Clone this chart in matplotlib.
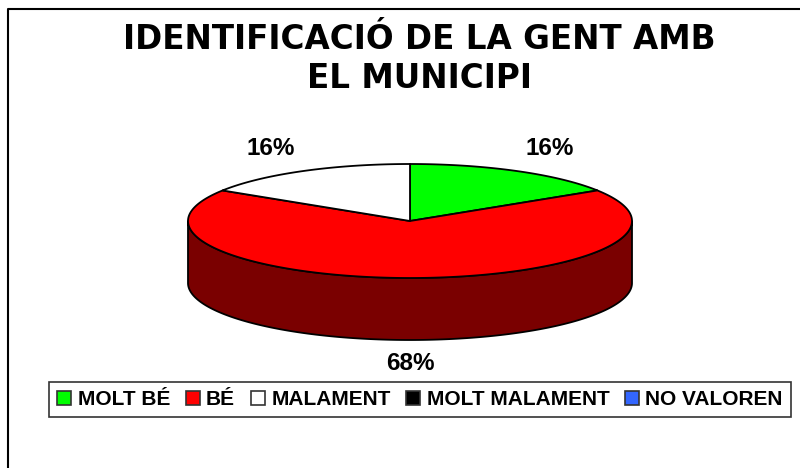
import numpy as np
import matplotlib.pyplot as plt
from matplotlib.patches import Polygon, Patch
from matplotlib.lines import Line2D

# data
labels = ['MOLT BÉ', 'BÉ', 'MALAMENT', 'MOLT MALAMENT', 'NO VALOREN']
values = [16, 68, 16, 0, 0]
colors = ['#00ff00', '#ff0000', '#ffffff', '#000000', '#3366ff']
side_colors = ['#007f00', '#7a0000', '#808080', '#000000', '#1a338f']
title_lines = ['IDENTIFICACIÓ DE LA GENT AMB', 'EL MUNICIPI']

W, H = 800, 468
fig = plt.figure(figsize=(W / 100, H / 100), dpi=100)
ax = fig.add_axes([0, 0, 1, 1])
ax.set_xlim(0, W)
ax.set_ylim(H, 0)
ax.axis('off')

# pie geometry (pixels)
cx, cy, a, b, depth = 410, 221, 222, 57, 62


def ell(t, dy=0.0):
    t = np.radians(t)
    return np.column_stack([cx + a * np.cos(t), cy - b * np.sin(t) + dy])


total = float(sum(values))
start = 90.0
wedges = []
for v, c, sc in zip(values, colors, side_colors):
    if v == 0:
        continue
    sweep = 360.0 * v / total
    wedges.append((start - sweep, start, c, sc, v))
    start -= sweep

# side walls (front half only)
for t1, t2, c, sc, v in wedges:
    ts = np.linspace(t1, t2, 400)
    front = np.sin(np.radians(ts)) < 0
    idx = np.where(front)[0]
    if len(idx) == 0:
        continue
    runs = np.split(idx, np.where(np.diff(idx) > 1)[0] + 1)
    for r in runs:
        seg = ts[r]
        pts = np.vstack([ell(seg), ell(seg[::-1], depth)])
        ax.add_patch(Polygon(pts, closed=True, facecolor=sc, edgecolor='black',
                             lw=1.3, zorder=1, joinstyle='round'))

# top faces
for t1, t2, c, sc, v in wedges:
    ts = np.linspace(t2, t1, 300)
    pts = np.vstack([[cx, cy], ell(ts)])
    ax.add_patch(Polygon(pts, closed=True, facecolor=c, edgecolor='black',
                         lw=1.3, zorder=2, joinstyle='round'))

# percent labels
for t1, t2, c, sc, v in wedges:
    m = np.radians((t1 + t2) / 2)
    x = cx + 289 * np.cos(m)
    y = cy - 83 * np.sin(m) + (depth - 2 if np.sin(m) < -0.01 else 0)
    ax.text(x, y, f'{round(100 * v / total)}%', ha='center', va='center',
            fontsize=17.5, fontweight='bold', family='Liberation Sans', zorder=3)

# title
fig.text(419 / W, 1 - 49 / H, title_lines[0], ha='center', va='baseline',
         fontsize=23.5, fontweight='bold', family='DejaVu Sans')
fig.text(419 / W, 1 - 88 / H, title_lines[1], ha='center', va='baseline',
         fontsize=23.5, fontweight='bold', family='DejaVu Sans')

# legend
handles = [Patch(facecolor=c, edgecolor='#333333', lw=1.2) for c in colors]
leg = fig.legend(handles, labels, loc='center', ncol=5,
                 bbox_to_anchor=(420 / W, 1 - 399.5 / H),
                 prop=dict(family='Liberation Sans', weight='bold', size=15),
                 handlelength=0.68, handleheight=0.68, handletextpad=0.3,
                 columnspacing=0.75, borderpad=0.4, borderaxespad=0,
                 fancybox=False, framealpha=1, edgecolor='#333333')
leg.get_frame().set_linewidth(1.2)

# outer chart border (left and top visible)
fig.add_artist(Line2D([8 / W, 8 / W, 1], [0, 1 - 9 / H, 1 - 9 / H],
                      transform=fig.transFigure, color='black', lw=1.5))

fig.savefig('out.png', dpi=100, facecolor='white')
